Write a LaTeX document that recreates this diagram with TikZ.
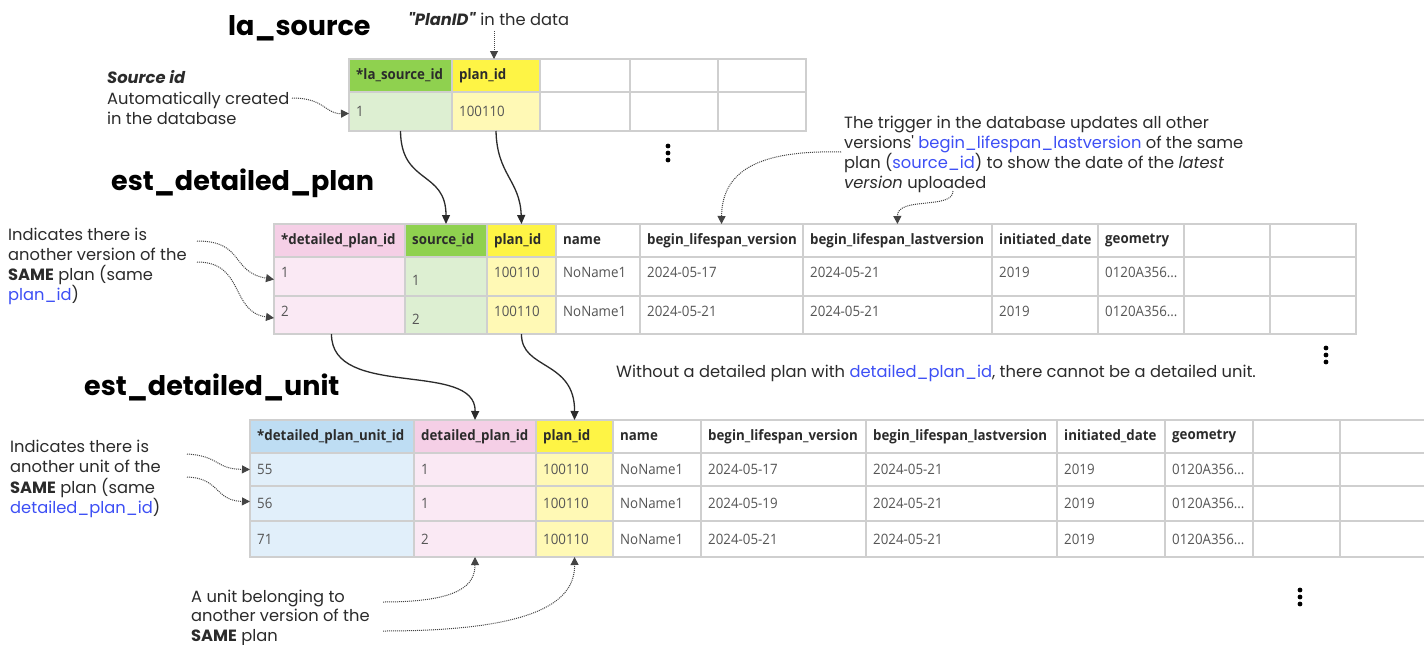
\documentclass[tikz,border=0pt]{standalone}
\usepackage{fontspec}
\setmainfont{Poppins}[Ligatures=TeXOff]
\newfontfamily\tabfont[FakeStretch=0.93]{Open Sans}
\usetikzlibrary{arrows.meta}
\definecolor{hgreen}{HTML}{8FD14F}
\definecolor{lgreen}{HTML}{DDEFD2}
\definecolor{hyellow}{HTML}{FEF445}
\definecolor{lyellow}{HTML}{FFF9B5}
\definecolor{hpink}{HTML}{F5CFE6}
\definecolor{lpink}{HTML}{FAE9F4}
\definecolor{hblue}{HTML}{BEDDF3}
\definecolor{lblue}{HTML}{E1EFFA}
\definecolor{linkblue}{HTML}{3D4FF5}
\definecolor{gridc}{HTML}{CFCFCF}
\definecolor{datagray}{HTML}{555555}
\definecolor{ink}{HTML}{2B2B2B}
\definecolor{dotc}{HTML}{444444}
\newcommand\geomval{0120A356...}
\tikzset{
  cellbox/.style={draw=gridc, line width=1.2pt, inner sep=0pt, outer sep=0pt, rectangle},
  hd/.style={font=\tabfont\bfseries\fontsize{14.3}{16}\selectfont, text=ink, inner sep=0pt},
  dt/.style={font=\tabfont\fontsize{14.3}{16}\selectfont, text=datagray, inner sep=0pt},
  ann/.style={font=\fontsize{16.3}{20}\selectfont, text=ink, inner sep=0pt, anchor=base west},
  ttl/.style={font=\bfseries\fontsize{27}{30}\selectfont, text=black, inner sep=0pt, anchor=base west},
  dotarr/.style={densely dotted, line width=1pt, draw=dotc, -{Triangle[length=8pt,width=8pt]}},
  solarr/.style={line width=1.3pt, draw=ink, -{Triangle[length=9pt,width=8pt]}},
  vdot/.style={circle, fill=black, inner sep=0pt, minimum size=4.8pt}
}
\newcommand\tcell[8]{%
  \node[cellbox, fill=#6, minimum width={(#4)-(#2)}, minimum height={(#5)-(#3)}] (#1) at ({((#2)+(#4))/2},{((#3)+(#5))/2}) {};
  \node[#7, anchor=west] (#1t) at ([xshift=7pt]#1.west) {#8};
}
\begin{document}
\begin{tikzpicture}[x=1pt,y=-1pt]
\fill[white] (0,0) rectangle (1424,645);
\useasboundingbox (0,0) rectangle (1424,645);

% ---------- titles ----------
\node[ttl] (ttlA) at (228,35) {la\_source};
\node[ttl] (ttlB) at (111,190) {est\_detailed\_plan};
\node[ttl] (ttlC) at (84,395) {est\_detailed\_unit};

% ---------- table la_source ----------
\foreach \xa/\xb/\f/\t [count=\i] in {349/452/hgreen/*la\_source\_id, 452/540/hyellow/plan\_id, 540/630/white/{}, 630/718/white/{}, 718/806/white/{}}
  {\tcell{sH\i}{\xa}{59}{\xb}{92}{\f}{hd}{\t}}
\foreach \xa/\xb/\f/\t [count=\i] in {349/452/lgreen/1, 452/540/lyellow/100110, 540/630/white/{}, 630/718/white/{}, 718/806/white/{}}
  {\tcell{sA\i}{\xa}{92}{\xb}{131}{\f}{dt}{\t}}

% ---------- table est_detailed_plan ----------
\foreach \xa/\xb/\f/\t [count=\i] in {274/405/hpink/*detailed\_plan\_id, 405/487/hgreen/source\_id, 487/556/hyellow/plan\_id, 556/640/white/name, 640/803/white/begin\_lifespan\_version, 803/992/white/begin\_lifespan\_lastversion, 992/1098/white/initiated\_date, 1098/1184/white/geometry, 1184/1270/white/{}, 1270/1356/white/{}}
  {\tcell{pH\i}{\xa}{224}{\xb}{257}{\f}{hd}{\t}}
\foreach \xa/\xb/\f/\t/\s [count=\i] in {274/405/lpink/1/4, 405/487/lgreen/1/-4, 487/556/lyellow/100110/4, 556/640/white/NoName1/4, 640/803/white/2024-05-17/4, 803/992/white/2024-05-21/4, 992/1098/white/2019/4, 1098/1184/white/\geomval/4, 1184/1270/white/{}/4, 1270/1356/white/{}/4}
  {\tcell{pA\i}{\xa}{257}{\xb}{296}{\f}{dt,yshift=\s pt}{\t}}
\foreach \xa/\xb/\f/\t/\s [count=\i] in {274/405/lpink/2/4, 405/487/lgreen/2/-4, 487/556/lyellow/100110/4, 556/640/white/NoName1/4, 640/803/white/2024-05-21/4, 803/992/white/2024-05-21/4, 992/1098/white/2019/4, 1098/1184/white/\geomval/4, 1184/1270/white/{}/4, 1270/1356/white/{}/4}
  {\tcell{pB\i}{\xa}{296}{\xb}{334}{\f}{dt,yshift=\s pt}{\t}}

% ---------- table est_detailed_unit ----------
\foreach \xa/\xb/\f/\t [count=\i] in {250/414/hblue/*detailed\_plan\_unit\_id, 414/536/hpink/detailed\_plan\_id, 536/613/hyellow/plan\_id, 613/701/white/name, 701/866/white/begin\_lifespan\_version, 866/1057/white/begin\_lifespan\_lastversion, 1057/1165/white/initiated\_date, 1165/1253/white/geometry, 1253/1340/white/{}, 1340/1432/white/{}}
  {\tcell{uH\i}{\xa}{420}{\xb}{453}{\f}{hd}{\t}}
\foreach \xa/\xb/\f/\t [count=\i] in {250/414/lblue/55, 414/536/lpink/1, 536/613/lyellow/100110, 613/701/white/NoName1, 701/866/white/2024-05-17, 866/1057/white/2024-05-21, 1057/1165/white/2019, 1165/1253/white/\geomval, 1253/1340/white/{}, 1340/1432/white/{}}
  {\tcell{uA\i}{\xa}{453}{\xb}{486}{\f}{dt}{\t}}
\foreach \xa/\xb/\f/\t [count=\i] in {250/414/lblue/56, 414/536/lpink/1, 536/613/lyellow/100110, 613/701/white/NoName1, 701/866/white/2024-05-19, 866/1057/white/2024-05-21, 1057/1165/white/2019, 1165/1253/white/\geomval, 1253/1340/white/{}, 1340/1432/white/{}}
  {\tcell{uB\i}{\xa}{486}{\xb}{521}{\f}{dt}{\t}}
\foreach \xa/\xb/\f/\t [count=\i] in {250/414/lblue/71, 414/536/lpink/2, 536/613/lyellow/100110, 613/701/white/NoName1, 701/866/white/2024-05-21, 866/1057/white/2024-05-21, 1057/1165/white/2019, 1165/1253/white/\geomval, 1253/1340/white/{}, 1340/1432/white/{}}
  {\tcell{uC\i}{\xa}{521}{\xb}{557}{\f}{dt}{\t}}

% ---------- annotations ----------
\node[ann] (planid) at (408,25) {\textbf{\textit{"PlanID"}} in the data};

\node[ann] (srcA) at (107,83) {\textbf{\textit{Source id}}};
\node[ann] (srcB) at (107,104) {Automatically created};
\node[ann] (srcC) at (107,124) {in the database};

\node[ann] (trA) at (844,128) {The trigger in the database updates all other};
\node[ann] (trB) at (844,148) {versions' \textcolor{linkblue}{begin\_lifespan\_lastversion} of the same};
\node[ann] (trC) at (844,168) {plan (\textcolor{linkblue}{source\_id}) to show the date of the \textit{latest}};
\node[ann] (trD) at (844,188) {\textit{version} uploaded};

\node[ann] (vA) at (8,240) {Indicates there is};
\node[ann] (vB) at (8,260) {another version of the};
\node[ann] (vC) at (8,280) {\textbf{SAME} plan (same};
\node[ann] (vD) at (8,300) {\textcolor{linkblue}{plan\_id})};

\node[ann] (without) at (616,377) {Without a detailed plan with \textcolor{linkblue}{detailed\_plan\_id}, there cannot be a detailed unit.};

\node[ann] (uuA) at (10,452) {Indicates there is};
\node[ann] (uuB) at (10,472) {another unit of the};
\node[ann] (uuC) at (10,493) {\textbf{SAME} plan (same};
\node[ann] (uuD) at (10,513) {\textcolor{linkblue}{detailed\_plan\_id})};

\node[ann] (bA) at (191,602) {A unit belonging to};
\node[ann] (bB) at (191,621) {another version of the};
\node[ann] (bC) at (191,641) {\textbf{SAME} plan};

% ---------- vertical ellipses ----------
\foreach \cx/\cy [count=\k] in {668/153, 1326/355, 1300/597}{
  \node[vdot] (el\k a) at (\cx,\cy-7) {};
  \node[vdot] (el\k b) at (\cx,\cy) {};
  \node[vdot] (el\k c) at (\cx,\cy+7) {};
}

% ---------- free ends of dotted connectors ----------
\coordinate (cPlan) at (494,31);
\coordinate (cSrc) at (292,98);
\coordinate (cTrA) at (841,152);
\coordinate (cTrB) at (953,191);
\coordinate (cV1) at (197,241);
\coordinate (cV2) at (197,262);
\coordinate (cU1) at (187,454);
\coordinate (cU2) at (187,477);
\coordinate (cB1) at (383,602);
\coordinate (cB2) at (383,631);

% ---------- dotted connectors ----------
\draw[dotarr] (cPlan) -- (cPlan |- sH2.north);
\draw[dotarr] (cSrc) .. controls (325,98) and (325,114) .. ([yshift=-2pt]sA1.west);
\draw[dotarr] (cTrA) .. controls (760,150) and (722,170) .. (pH5.north);
\draw[dotarr] (cTrB) .. controls (953,210) and (897,196) .. (pH6.north);
\draw[dotarr] (cV1) .. controls (245,241) and (230,272) .. ([yshift=-3pt]pA1.west);
\draw[dotarr] (cV2) .. controls (245,262) and (230,312) .. ([yshift=-3pt]pB1.west);
\draw[dotarr] (cU1) .. controls (220,456) and (215,469) .. (uA1.west);
\draw[dotarr] (cU2) .. controls (220,478) and (215,501) .. ([yshift=2pt]uB1.west);
\draw[dotarr] (cB1) .. controls (460,602) and (475,585) .. (uC2.south);
\draw[dotarr] (cB2) .. controls (540,631) and (575,600) .. (uC3.south);

% ---------- solid connectors ----------
\draw[solarr] (sA1.south) .. controls (401,185) and (446,170) .. (pH2.north);
\draw[solarr] (sA2.south) .. controls (497,175) and (520,180) .. (pH3.north);
\draw[solarr] ([xshift=-8pt]pB1.south) .. controls (331,400) and (476,360) .. (uH2.north);
\draw[solarr] (pB3.south) .. controls (521,370) and (575,360) .. (uH3.north);
\end{tikzpicture}
\end{document}
